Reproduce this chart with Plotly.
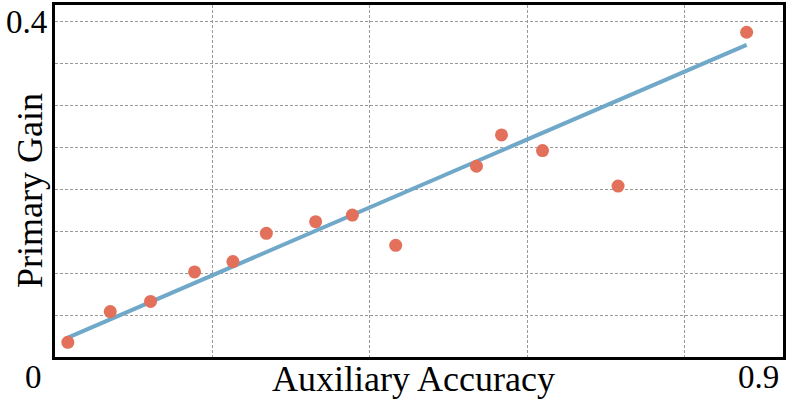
import plotly.graph_objects as go

aux_acc = [0.0163, 0.0702, 0.1214, 0.1773, 0.2260, 0.2685, 0.3311, 0.3778,
           0.4328, 0.5354, 0.5672, 0.6193, 0.7153, 0.8786]
primary_gain = [0.0175, 0.0542, 0.0663, 0.1016, 0.1139, 0.1476, 0.1615, 0.1694,
                0.1333, 0.2277, 0.2651, 0.2464, 0.2040, 0.3877]

fit_x = [0.0142, 0.8786]
fit_y = [0.0223, 0.3726]

x_grid = [0.2, 0.4, 0.6, 0.8]
y_grid = [0.05, 0.10, 0.15, 0.20, 0.25, 0.30, 0.35, 0.40]
y_top_label = "0.4"
y_top_value = 0.40

FONT = "Liberation Serif"

fig = go.Figure()
fig.add_trace(go.Scatter(x=fit_x, y=fit_y, mode="lines",
                         line=dict(color="#6fa8c8", width=4), showlegend=False))
fig.add_trace(go.Scatter(x=aux_acc, y=primary_gain, mode="markers",
                         marker=dict(color="#e2705a", size=13, line=dict(width=0)),
                         showlegend=False))

fig.update_layout(
    width=789, height=401,
    margin=dict(l=55, r=6, t=5, b=44, autoexpand=False),
    plot_bgcolor="white", paper_bgcolor="white",
    font=dict(family=FONT, size=33, color="black"),
    xaxis=dict(range=[0, 0.9248], tickvals=x_grid, showticklabels=False,
               showgrid=True, gridcolor="#999999", gridwidth=1, griddash="3px,2px",
               zeroline=False, showline=True, linecolor="black", linewidth=3,
               mirror=True, ticks="", automargin=False),
    yaxis=dict(range=[0, 0.4202], tickvals=y_grid, showticklabels=False,
               showgrid=True, gridcolor="#999999", gridwidth=1, griddash="3px,2px",
               zeroline=False, showline=True, linecolor="black", linewidth=3,
               mirror=True, ticks="", automargin=False),
    annotations=[
        dict(text=y_top_label, xref="paper", yref="y", x=0, y=y_top_value,
             xanchor="right", yanchor="middle", xshift=-6, showarrow=False,
             font=dict(family=FONT, size=33)),
        dict(text="Auxiliary Accuracy", xref="paper", yref="paper", x=0.5, y=0,
             xanchor="center", yanchor="top", xshift=-6, yshift=0, showarrow=False,
             font=dict(family=FONT, size=36)),
        dict(text="Primary Gain", xref="paper", yref="paper", x=0, y=0.5,
             xanchor="right", yanchor="middle", xshift=-3, yshift=-10, textangle=-90,
             showarrow=False, font=dict(family=FONT, size=36)),
        dict(text="0", xref="paper", yref="paper", x=0, y=0,
             xanchor="center", yanchor="top", xshift=-22, yshift=0,
             showarrow=False, font=dict(family=FONT, size=33)),
        dict(text="0.9", xref="paper", yref="paper", x=1, y=0,
             xanchor="right", yanchor="top", xshift=-2, yshift=0,
             showarrow=False, font=dict(family=FONT, size=33)),
    ],
)

fig.write_html("out.html", config={"displayModeBar": False},
               post_script="document.body.style.margin='0';document.body.style.overflow='hidden';")
